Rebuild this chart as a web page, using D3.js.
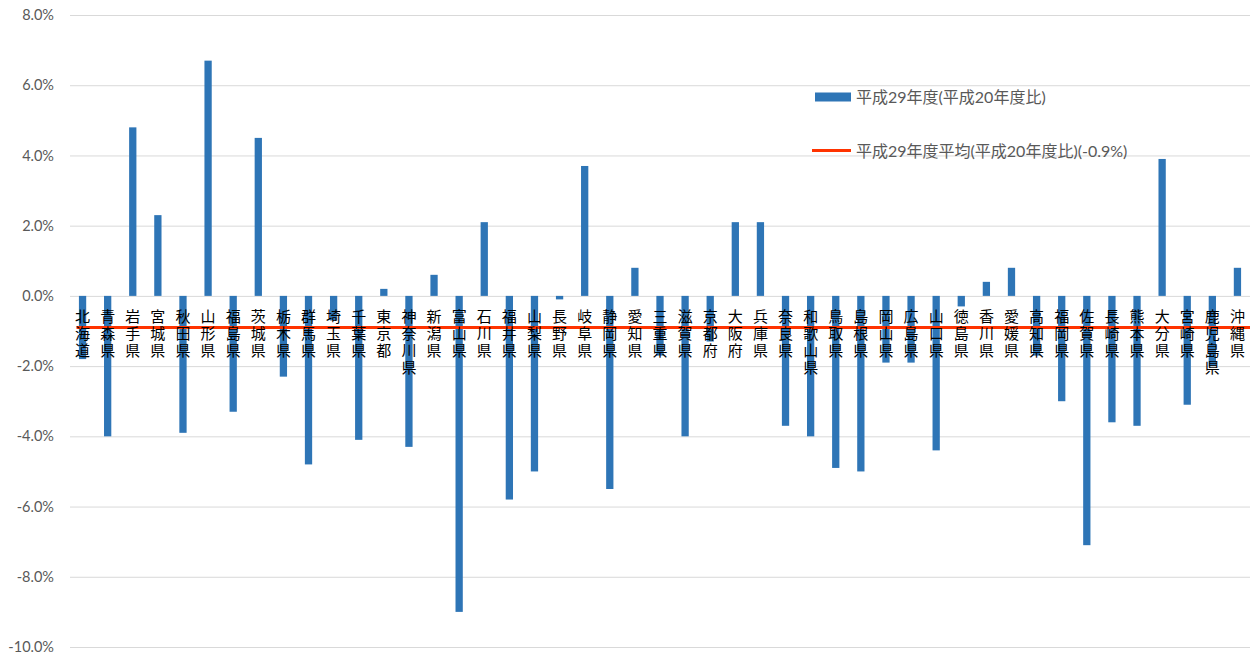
<!DOCTYPE html>
<html>
<head>
<meta charset="utf-8">
<script src="https://cdn.jsdelivr.net/npm/d3@7"></script>
<style>
  body { margin: 0; background: #fff; }
  #chart { width: 1253px; height: 657px; }
</style>
</head>
<body>
<div id="chart"></div>
<script>
const prefectures = ['北海道','青森県','岩手県','宮城県','秋田県','山形県','福島県','茨城県','栃木県','群馬県',
  '埼玉県','千葉県','東京都','神奈川県','新潟県','富山県','石川県','福井県','山梨県','長野県',
  '岐阜県','静岡県','愛知県','三重県','滋賀県','京都府','大阪府','兵庫県','奈良県','和歌山県',
  '鳥取県','島根県','岡山県','広島県','山口県','徳島県','香川県','愛媛県','高知県','福岡県',
  '佐賀県','長崎県','熊本県','大分県','宮崎県','鹿児島県','沖縄県']

// 平成29年度(平成20年度比), %
const changeRate = [-1.8,-4.0,4.8,2.3,-3.9,6.7,-3.3,4.5,-2.3,-4.8,
  -0.7,-4.1,0.2,-4.3,0.6,-9.0,2.1,-5.8,-5.0,-0.1,
  3.7,-5.5,0.8,-1.7,-4.0,-1.3,2.1,2.1,-3.7,-4.0,
  -4.9,-5.0,-1.9,-1.9,-4.4,-0.3,0.4,0.8,-1.7,-3.0,
  -7.1,-3.6,-3.7,3.9,-3.1,-2.0,0.8]

const average = -0.9
const yTicks = [8,6,4,2,0,-2,-4,-6,-8,-10]
const seriesNames = ['平成29年度(平成20年度比)', '平成29年度平均(平成20年度比)(-0.9%)']

const width = 1253, height = 657
const margin = {top: 15, right: 3, bottom: 10, left: 70}

const svg = d3.select('#chart').append('svg')
    .attr('width', width)
    .attr('height', height)

const x = d3.scaleBand()
    .domain(prefectures)
    .range([margin.left, width - margin.right])

const y = d3.scaleLinear()
    .domain([-10, 8])
    .range([height - margin.bottom, margin.top])

// grid + y labels
const yAxis = d3.axisLeft(y)
    .tickValues(yTicks)
    .tickSize(-(width - margin.right - margin.left))
    .tickPadding(16)
    .tickFormat(d => d.toFixed(1) + '%')

const yAxisG = svg.append('g')
    .attr('transform', `translate(${margin.left},0)`)
    .call(yAxis)
yAxisG.select('.domain').remove()
yAxisG.selectAll('.tick line')
    .attr('stroke', '#d9d9d9')
    .attr('stroke-width', 1)
yAxisG.selectAll('.tick text')
    .attr('fill', '#595959')
    .attr('font-family', 'Lato, "Noto Sans", sans-serif')
    .attr('font-size', '14.5px')

// bars
const barW = x.bandwidth() * 0.29
svg.append('g').selectAll('rect').data(changeRate)
    .enter()
    .append('rect')
    .attr('x', (d, i) => x(prefectures[i]) + (x.bandwidth() - barW) / 2)
    .attr('y', d => y(Math.max(0, d)))
    .attr('width', barW)
    .attr('height', d => Math.abs(y(d) - y(0)))
    .attr('fill', '#2e75b6')

// average line
svg.append('line')
    .attr('x1', x(prefectures[0]) + x.bandwidth() / 2 - 6)
    .attr('x2', x.range()[1])
    .attr('y1', y(average))
    .attr('y2', y(average))
    .attr('stroke', '#ff3300')
    .attr('stroke-width', 3)

// vertical category labels (one char per row)
svg.append('g')
    .attr('font-family', '"Noto Sans CJK JP", sans-serif')
    .attr('font-size', '15px')
    .attr('fill', '#000')
    .selectAll('text').data(prefectures)
    .enter()
    .append('text')
    .attr('x', d => x(d) + x.bandwidth() / 2)
    .attr('y', y(0) + 12.5)
    .style('writing-mode', 'vertical-rl')
    .style('letter-spacing', '2.3px')
    .text(d => d)

// legend
const legend = svg.append('g')
    .attr('font-family', 'Lato, "Noto Sans CJK JP", sans-serif')
    .attr('font-size', '16px')
    .attr('fill', '#595959')

legend.append('rect')
    .attr('x', 815).attr('y', 92.5)
    .attr('width', 36).attr('height', 9)
    .attr('fill', '#2e75b6')
legend.append('text')
    .attr('x', 856).attr('y', 102.5)
    .text(seriesNames[0])

legend.append('line')
    .attr('x1', 812).attr('x2', 851)
    .attr('y1', 150.5).attr('y2', 150.5)
    .attr('stroke', '#ff3300')
    .attr('stroke-width', 3)
legend.append('text')
    .attr('x', 856).attr('y', 156.5)
    .text(seriesNames[1])
</script>
</body>
</html>
